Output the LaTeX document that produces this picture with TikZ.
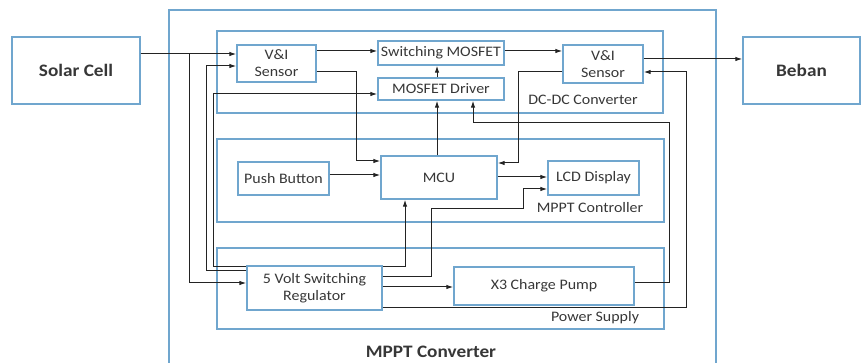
\documentclass[tikz,border=0pt]{standalone}
\usepackage{fontspec}
\usetikzlibrary{arrows.meta}
\setmainfont{Carlito}[FakeStretch=1.1]
\definecolor{boxline}{RGB}{112,166,206}
\definecolor{txt}{RGB}{55,55,55}
\definecolor{wirecol}{RGB}{35,35,35}

\begin{document}
\begin{tikzpicture}[x=1pt, y=-1pt,
	block/.style = {draw=boxline, line width=1.4pt, text=txt, inner sep=0pt, align=center, font=\fontsize{14.5}{17}\selectfont},
	bigblock/.style = {block, font=\fontsize{17.5}{20}\selectfont\bfseries},
	group/.style = {draw=boxline, line width=1.4pt, inner sep=0pt},
	grouplabel/.style = {text=txt, inner sep=0pt, font=\fontsize{14.5}{17}\selectfont},
	arr/.style = {draw=wirecol, line width=1pt, -{Latex[length=7pt,width=4.5pt]}}]
	\useasboundingbox (0,0) rectangle (862,363);
	\draw[group] (169,363) |- (716,10) -- (716,363);
	\node (mpptlabel) at (431,352) [grouplabel, font=\fontsize{17.5}{20}\selectfont\bfseries] {MPPT Converter};
	\node (dcdc) at (440,72) [group, minimum width=446pt, minimum height=82pt] {};
	\node (ctrl) at (440.5,180.5) [group, minimum width=447pt, minimum height=83pt] {};
	\node (psu) at (440.5,288.5) [group, minimum width=447pt, minimum height=81pt] {};
	\node (dcdclabel) at (583,100) [grouplabel] {DC-DC Converter};
	\node (ctrllabel) at (590,208) [grouplabel] {MPPT Controller};
	\node (psulabel) at (595,318) [grouplabel] {Power Supply};
	\node (solar) at (76,70.5) [bigblock, minimum width=128pt, minimum height=67pt] {Solar Cell};
	\node (beban) at (801.5,70.5) [bigblock, minimum width=117pt, minimum height=67pt] {Beban};
	\node (visin) at (276.5,63.5) [block, minimum width=79pt, minimum height=37pt] {V\&I\\Sensor};
	\node (swm) at (441,53) [block, minimum width=126pt, minimum height=24pt] {Switching MOSFET};
	\node (drv) at (441,89) [block, minimum width=126pt, minimum height=22pt] {MOSFET Driver};
	\node (visout) at (603,64) [block, minimum width=80pt, minimum height=38pt] {V\&I\\Sensor};
	\node (push) at (283.5,178.5) [block, minimum width=91pt, minimum height=33pt] {Push Button};
	\node (mcu) at (439,177.5) [block, minimum width=116pt, minimum height=43pt] {MCU};
	\node (lcd) at (593.5,178) [block, minimum width=91pt, minimum height=34pt] {LCD Display};
	\node (reg) at (314.5,288) [block, minimum width=135pt, minimum height=44pt] {5 Volt Switching\\Regulator};
	\node (pump) at (544,286) [block, minimum width=180pt, minimum height=38pt] {X3 Charge Pump};
	\draw[arr] (solar.east |- 0,54) -- (visin.west |- 0,54);
	\draw[arr] (solar.east |- 0,54) -| (189,283) -- (reg.west |- 0,283);
	\draw[arr] (reg.west |- 0,271) -| (206,66) -- (visin.west |- 0,66);
	\draw[arr] (reg.west |- 0,267) -| (213,94) -- (drv.west |- 0,94);
	\draw[arr] (visin.east |- 0,51) -- (swm.west |- 0,51);
	\draw[arr] (visin.east |- 0,72) -| (356,161) -- (mcu.west |- 0,161);
	\draw[arr] (push.east |- 0,175) -- (mcu.west |- 0,175);
	\draw[arr] (mcu.north -| 437,0) -- (drv.south -| 437,0);
	\draw[arr] (drv.north -| 437,0) -- (swm.south -| 437,0);
	\draw[arr] (swm.east |- 0,51) -- (visout.west |- 0,51);
	\draw[arr] (visout.east |- 0,59) -- (beban.west |- 0,59);
	\draw[arr] (visout.west |- 0,72) -| (518,163) -- (mcu.east |- 0,163);
	\draw[arr] (mcu.east |- 0,177) -- (lcd.west |- 0,177);
	\draw[arr] (reg.east |- 0,267) -| (mcu.south -| 405,0);
	\draw[arr] (reg.east |- 0,277) -| (431,209) -| (523,189) -- (lcd.west |- 0,189);
	\draw[arr] (reg.east |- 0,287) -- (pump.west |- 0,287);
	\draw[arr] (reg.east |- 0,308) -| (686,72) -- (visout.east |- 0,72);
	\draw[arr] (pump.east |- 0,283) -| (669,123) -| (drv.south -| 473,0);
\end{tikzpicture}
\end{document}
